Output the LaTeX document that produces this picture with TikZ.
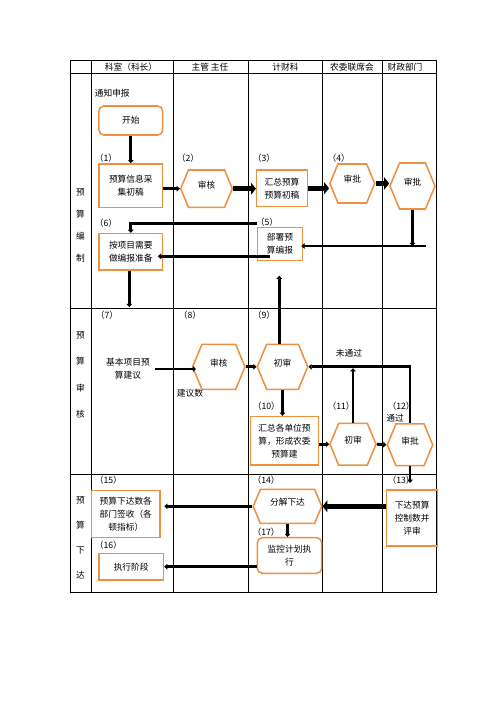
\documentclass[tikz,border=0pt]{standalone}
\usepackage{fontspec}
\setmainfont{Noto Sans CJK SC}
\definecolor{boxorange}{RGB}{237,145,64}
\usetikzlibrary{
  shapes.symbols,
  arrows.meta,
  positioning
}

\begin{document}
\begin{tikzpicture}[
  x=0.5mm, y=-0.5mm,
  every node/.style={font=\fontsize{12.4}{18.5}\selectfont, inner sep=1pt},
  box/.style={rectangle, draw=boxorange, line width=2.2pt, align=center},
  rbox/.style={box, rounded corners=2.5mm},
  hexa/.style={signal, signal to=east and west, signal pointer angle=135, draw=boxorange, line width=2.2pt, inner sep=0pt, text depth=12pt},
  tag/.style={anchor=west},
  lane/.style={line width=1.1pt},
  link/.style={-{Triangle[length=4.5pt,width=8pt]}, line width=4.2pt},
  biglink/.style={-{Triangle[length=7pt,width=17pt]}, line width=7.8pt}
]
  \useasboundingbox (0,0) rectangle (496,702);

  % Table grid
  \draw[lane] (70,60) rectangle (436,592);
  \draw[lane] (70,73) -- (436,73);
  \draw[lane] (70,308) -- (436,308);
  \draw[lane] (70,474) -- (436,474);
  \draw[lane] (91,60) -- (91,592);
  \draw[lane] (173,60) -- (173,592);
  \draw[lane] (248,60) -- (248,592);
  \draw[lane] (322.7,60) -- (322.7,592);
  \draw[lane] (382.7,60) -- (382.7,592);

  % Header
  \node (hkeshi) at (131,67) {科室（科长）};
  \node (hzhuguan) at (210,67) {主管 主任};
  \node (hjicai) at (285.5,67) {计财科};
  \node (hnongwei) at (352,67) {农委联席会};
  \node (hcaizheng) at (405,67) {财政部门};

  % Row titles
  \node[align=center, font=\fontsize{12.4}{31.3}\selectfont] (rbianzhi) at (80.5,225.3) {预\\算\\编\\制};
  \node[align=center, font=\fontsize{12.4}{37.5}\selectfont] (rshenhe) at (80.5,374.7) {预\\算\\审\\核};
  \node[align=center, font=\fontsize{12.4}{35.5}\selectfont] (rxiada) at (80.5,537.5) {预\\算\\下\\达};

  % Row 1 - drafting
  \node[tag] (tongzhi) at (94,93) {通知申报};
  \node[rbox, minimum width=31.9mm, minimum height=14.5mm] (kaishi) at (130.8,120.5) {开始};
  \node[box, minimum width=31.9mm, minimum height=21.7mm] (caiji) at (130.8,185.7) {预算信息采\\集初稿};
  \node[hexa, minimum width=25.8mm, minimum height=18.7mm] (shenhe2) at (206.5,188.7) {审核};
  \node[box, minimum width=25.3mm, minimum height=18.4mm] (huizong3) at (282,188.3) {汇总预算\\预算初稿};
  \node[hexa, minimum width=22.4mm, minimum height=19.5mm] (shenpi4) at (352.3,183.5) {审批};
  \node[hexa, minimum width=22.5mm, minimum height=23mm] (shenpi5) at (412.5,186) {审批};
  \node[box, minimum width=22.7mm, minimum height=16.7mm] (bushu) at (280,244) {部署预\\算编报};
  \node[box, minimum width=31.9mm, minimum height=18.2mm] (anxiangmu) at (130.8,251.8) {按项目需要\\做编报准备};

  % Row 2 - review
  \node[align=center] (jianyi7) at (128,369) {基本项目预\\算建议};
  \node[hexa, minimum width=26.2mm, minimum height=22.5mm] (shenhe8) at (218.8,366.8) {审核};
  \node (jianyishu) at (190,393) {建议数};
  \node[hexa, minimum width=25.2mm, minimum height=22.5mm] (chushen9) at (282.5,366.8) {初审};
  \node[box, minimum width=33.8mm, minimum height=24.2mm] (huizong10) at (284.5,440.8) {汇总各单位预\\算，形成农委\\预算建};
  \node[hexa, minimum width=23mm, minimum height=20.9mm] (chushen11) at (353,444.2) {初审};
  \node[hexa, minimum width=22.7mm, minimum height=20.9mm] (shenpi12) at (410,444.8) {审批};
  \node (weitongguo) at (349,353) {未通过};
  \node (tongguo) at (395,418.3) {通过};

  % Row 3 - issuing
  \node[box, minimum width=25.5mm, minimum height=28mm] (xiada13) at (412.2,518) {下达预算\\控制数并\\评审};
  \node[hexa, minimum width=34.2mm, minimum height=17mm] (fenjie14) at (287.5,506.3) {分解下达};
  \node[box, minimum width=34.2mm, minimum height=23.5mm] (qianshou15) at (125.8,514.2) {预算下达数各\\部门签收（各\\顿指标）};
  \node[box, minimum width=32.2mm, minimum height=13.4mm] (zhixing16) at (131.2,566.7) {执行阶段};
  \node[rbox, minimum width=32.2mm, minimum height=17.8mm] (jiankong17) at (289.5,555.5) {监控计划执\\行};

  % Step numbers
  \node[tag] (t1) at (94,158) {（1）};
  \node[tag] (t2) at (176,158) {（2）};
  \node[tag] (t3) at (252,158) {（3）};
  \node[tag] (t4) at (326.7,158) {（4）};
  \node[tag] (t5) at (255,221.7) {（5）};
  \node[tag] (t6) at (94,222.7) {（6）};
  \node[tag] (t7) at (95,315) {（7）};
  \node[tag] (t8) at (178,315) {（8）};
  \node[tag] (t9) at (252,315) {（9）};
  \node[tag] (t10) at (252,406) {（10）};
  \node[tag] (t11) at (326.7,406) {（11）};
  \node[tag] (t12) at (386.7,406) {（12）};
  \node[tag] (t13) at (386.7,480) {（13）};
  \node[tag] (t14) at (251.7,480) {（14）};
  \node[tag] (t15) at (94,480) {（15）};
  \node[tag] (t16) at (94,545) {（16）};
  \node[tag] (t17) at (251.7,531.7) {（17）};

  % Free ends
  \coordinate (ret) at (426,246);
  \coordinate (bsrc) at (270,256.3);
  \coordinate (down7) at (129.3,307);
  \coordinate (up5) at (279.3,275.7);

  % Edges - row 1
  \draw[link] (kaishi) -- (caiji);
  \draw[link] (caiji.east |- shenhe2.west) -- (shenhe2.west);
  \draw[biglink] (shenhe2.east) -- (shenhe2.east -| huizong3.west);
  \draw[biglink] (huizong3.east) -- (huizong3.east -| shenpi4.west);
  \draw[biglink] (shenpi4.east) -- (shenpi4.east -| shenpi5.west);
  \draw[link] (shenpi5.south) -- (shenpi5.south |- ret);
  \draw[link, shorten >=-3pt] (ret) -- (ret -| bushu.east);
  \draw[link] ([yshift=4.5pt]bushu.north west) -| (anxiangmu.north);
  \draw[link, shorten >=-8pt] (bsrc) -- (bsrc -| anxiangmu.east);
  \draw[link] (anxiangmu.south -| down7) -- (down7);

  % Edges - row 2
  \draw[link] (up5 |- chushen9.north) -- (up5);
  \draw[link] ([xshift=6pt]jianyi7.east) -- ([xshift=6pt]jianyi7.east -| shenhe8.west);
  \draw[link] (shenhe8.east) -- (chushen9.west);
  \draw[link] (chushen9.south) -- (chushen9.south |- huizong10.north);
  \draw[link] (huizong10.east |- chushen11.west) -- (chushen11.west);
  \draw[link] (chushen11.east) -- (shenpi12.west);
  \draw[link] (shenpi12.north) |- (chushen9.east);
  \draw[link, shorten >=2pt] (chushen11.north) -- (chushen11.north |- chushen9.east);
  \draw[link, shorten >=9pt] (shenpi12.south) -- (shenpi12.south |- xiada13.north);

  % Edges - row 3
  \draw[biglink] (xiada13.west |- fenjie14.east) -- (fenjie14.east);
  \draw[link, shorten >=5pt] (fenjie14.west) -- (fenjie14.west -| qianshou15.east);
  \draw[link] (fenjie14.south) -- (fenjie14.south |- jiankong17.north);
  \draw[link] (jiankong17.west |- zhixing16.east) -- (zhixing16.east);
\end{tikzpicture}
\end{document}
